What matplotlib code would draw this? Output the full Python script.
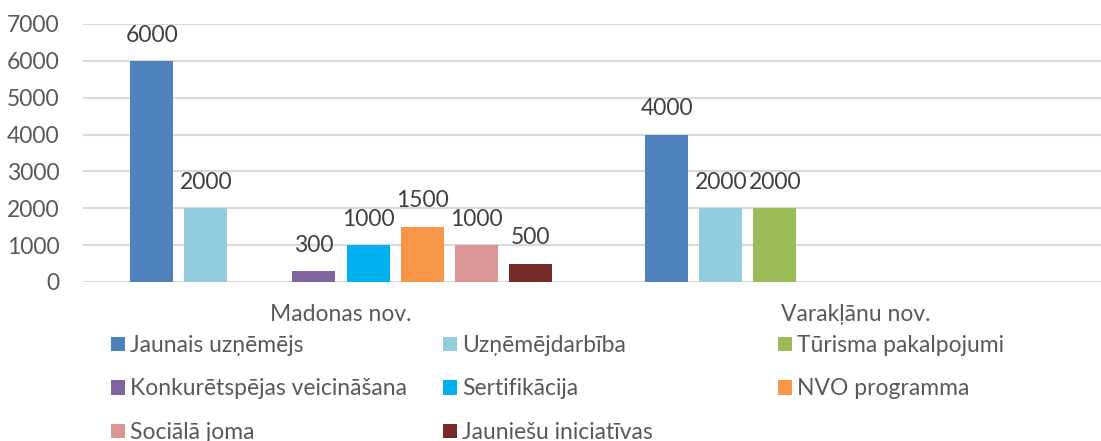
import numpy as np
import matplotlib
matplotlib.use("Agg")
import matplotlib.pyplot as plt
from matplotlib.patches import Patch

plt.rcParams["font.family"] = ["Lato", "DejaVu Sans"]

# data
categories = ["Madonas nov.", "Varakļānu nov."]
series = [
    "Jaunais uzņēmējs",
    "Uzņēmējdarbība",
    "Tūrisma pakalpojumi",
    "Konkurētspējas veicināšana",
    "Sertifikācija",
    "NVO programma",
    "Sociālā joma",
    "Jauniešu iniciatīvas",
]
madona = [6000, 2000, None, 300, 1000, 1500, 1000, 500]
varaklani = [4000, 2000, 2000, None, None, None, None, None]
colors = ["#4F81BD", "#93CDDD", "#9BBB59", "#8064A2",
          "#00B0F0", "#F79646", "#D99694", "#772C2A"]
yticks = [0, 1000, 2000, 3000, 4000, 5000, 6000, 7000]

text_col = "#595959"
fs = 16.5

fig = plt.figure(figsize=(11.01, 4.41), dpi=100)
# axes in pixel terms: left 83, right 1101, bottom 282, top 24
ax = fig.add_axes([83 / 1101, (441 - 282) / 441, (1101 - 83) / 1101, 258 / 441])

x = np.arange(len(categories))
pitch = 0.105
width = 0.0835
for i, name in enumerate(series):
    vals = np.array([madona[i], varaklani[i]], dtype=float)
    bars = ax.bar(x + (i - 3.5) * pitch, vals, width, color=colors[i], zorder=3)
    labels = ["" if np.isnan(v) else f"{int(v)}" for v in vals]
    ax.bar_label(bars, labels=labels, padding=11, fontsize=fs, color="#404040")

ax.set_xlim(-0.501, 1.476)
ax.set_ylim(0, 7000)
ax.set_yticks(yticks)
ax.set_xticks(x)
ax.set_xticklabels(categories)
ax.tick_params(axis="y", length=0, pad=17, labelsize=fs, labelcolor=text_col)
ax.tick_params(axis="x", length=0, pad=16, labelsize=fs, labelcolor=text_col)
ax.grid(axis="y", color="#D9D9D9", linewidth=1.5, zorder=0)
for s in ax.spines.values():
    s.set_visible(False)

# legend laid out in three fixed columns, row-major like the original
handles = [Patch(facecolor=c, edgecolor="none") for c in colors]
col_x = [111 / 1101, 443 / 1101, 778 / 1101]
for c in range(3):
    idx = list(range(c, len(series), 3))
    fig.legend([handles[k] for k in idx], [series[k] for k in idx],
               loc="upper left", bbox_to_anchor=(col_x[c], 1 - 335 / 441),
               frameon=False, fontsize=fs, labelcolor=text_col,
               handlelength=0.6, handleheight=0.6, handletextpad=0.25,
               labelspacing=0.98, borderaxespad=0, borderpad=0)

fig.savefig("out.png", dpi=100)
